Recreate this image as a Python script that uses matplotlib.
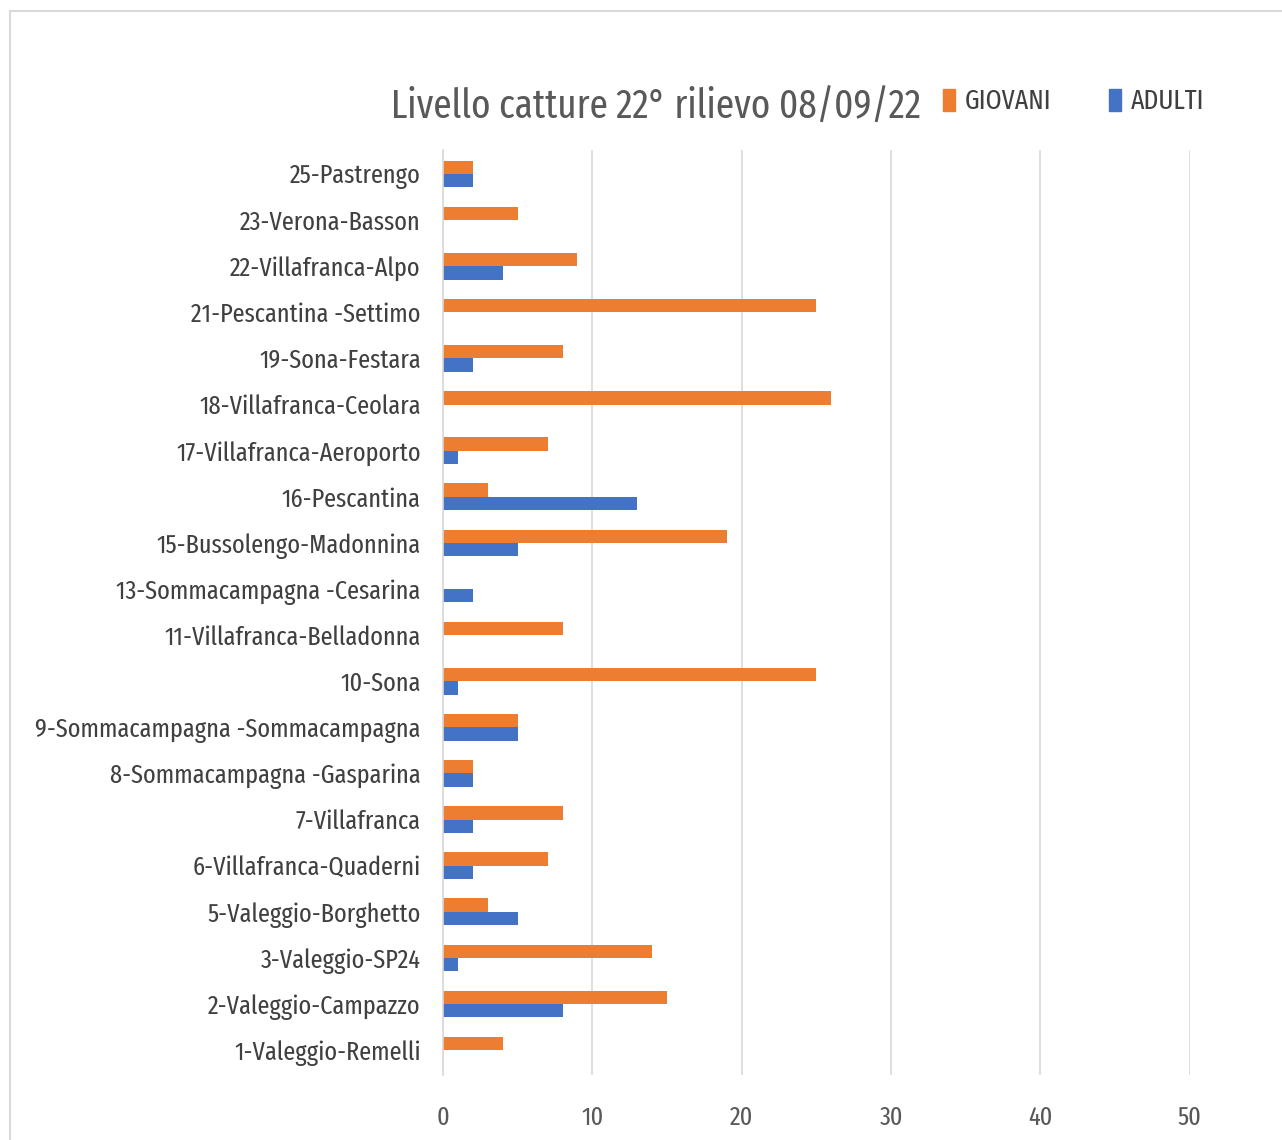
import matplotlib
matplotlib.use('Agg')
import matplotlib.pyplot as plt
import matplotlib.patches as mpatches
import numpy as np

plt.rcParams['font.family'] = ['Fira Sans Extra Condensed', 'DejaVu Sans']

stations = ['1-Valeggio-Remelli', '2-Valeggio-Campazzo', '3-Valeggio-SP24',
            '5-Valeggio-Borghetto', '6-Villafranca-Quaderni', '7-Villafranca',
            '8-Sommacampagna -Gasparina', '9-Sommacampagna -Sommacampagna',
            '10-Sona', '11-Villafranca-Belladonna', '13-Sommacampagna -Cesarina',
            '15-Bussolengo-Madonnina', '16-Pescantina', '17-Villafranca-Aeroporto',
            '18-Villafranca-Ceolara', '19-Sona-Festara', '21-Pescantina -Settimo',
            '22-Villafranca-Alpo', '23-Verona-Basson', '25-Pastrengo']
giovani = [4, 15, 14, 3, 7, 8, 2, 5, 25, 8, 0, 19, 3, 7, 26, 8, 25, 9, 5, 2]
adulti = [0, 8, 1, 5, 2, 2, 2, 5, 1, 0, 2, 5, 13, 1, 0, 2, 0, 4, 0, 2]
xticks = [0, 10, 20, 30, 40, 50]

orange = '#ED7D31'
blue = '#4472C4'

fig = plt.figure(figsize=(12.82, 11.4), dpi=100)
# outer frame of the pasted chart
fig.patches.append(mpatches.Rectangle((0.008, -0.01), 1.2, 1.0, transform=fig.transFigure,
                                      fill=False, edgecolor='#d9d9d9', linewidth=1.5))
ax = fig.add_axes([0.3456, 0.057, 0.5825, 0.8114])

y = np.arange(len(stations))
h = 0.29
ax.barh(y + h / 2, giovani, height=h, color=orange, label='GIOVANI')
ax.barh(y - h / 2, adulti, height=h, color=blue, label='ADULTI')

ax.set_xlim(0, 50)
ax.set_ylim(-0.54, len(stations) - 0.48)
ax.set_xticks(xticks)
ax.set_yticks(y)
ax.set_yticklabels(stations, fontsize=19, color='#404040')
ax.tick_params(axis='x', labelsize=19, labelcolor='#595959', length=0, pad=22)
ax.tick_params(axis='y', length=0, pad=16)
ax.grid(axis='x', color='#d9d9d9', linewidth=1.2)
ax.set_axisbelow(True)
for s in ['top', 'right', 'bottom']:
    ax.spines[s].set_visible(False)
ax.spines['left'].set_color('#d9d9d9')
ax.spines['left'].set_linewidth(1.2)

fig.text(0.512, 0.906, 'Livello catture 22° rilievo 08/09/22', fontsize=29,
         color='#595959', ha='center', va='center')
fig.legend(handles=[mpatches.Patch(color=orange, label='GIOVANI'),
                    mpatches.Patch(color=blue, label='ADULTI')],
           loc='center left', bbox_to_anchor=(0.716, 0.911), ncol=2, frameon=False,
           fontsize=20, handlelength=0.42, handleheight=0.85, handletextpad=0.35,
           columnspacing=2.1, labelcolor='#404040')

fig.savefig('out.png', dpi=100)
